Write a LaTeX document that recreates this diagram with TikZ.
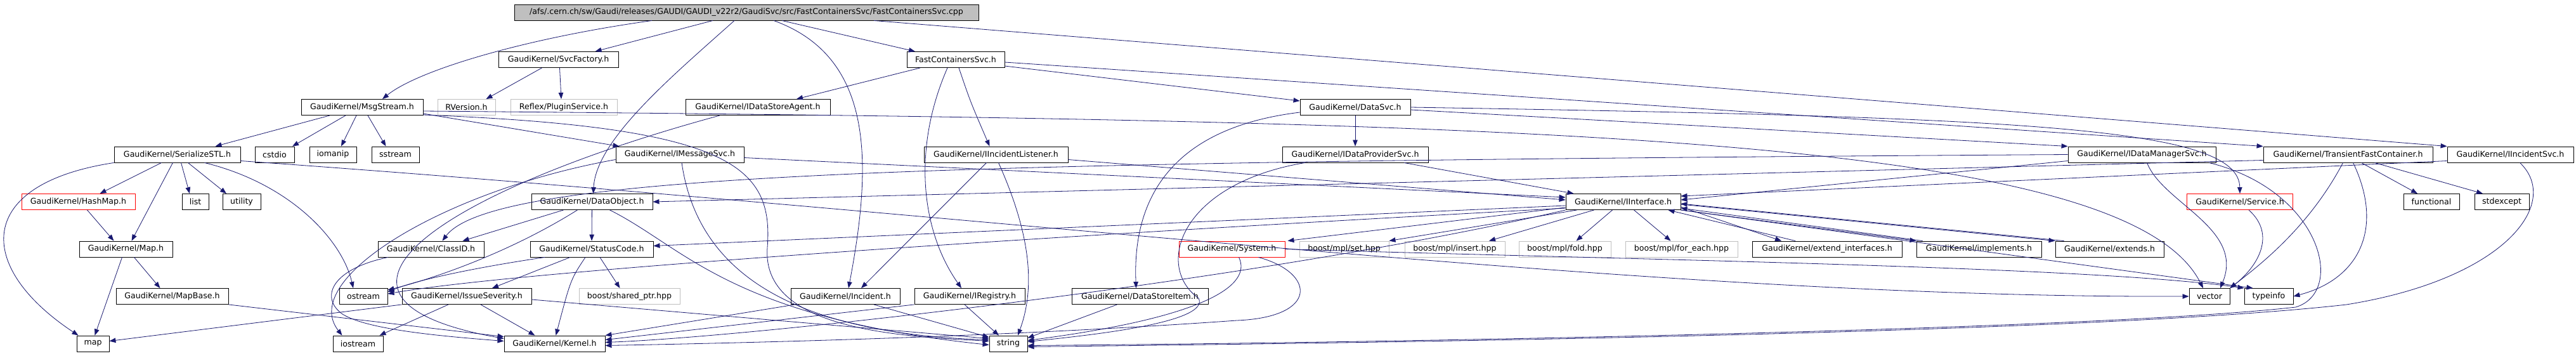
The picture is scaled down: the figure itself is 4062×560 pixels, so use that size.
\documentclass[tikz,border=0pt]{standalone}
\usepackage{fontspec}
\setmainfont{DejaVu Sans}
\usepackage{tikz}
\usetikzlibrary{arrows.meta,calc}
\definecolor{fcedge}{HTML}{191970}
\definecolor{fcgray}{HTML}{BFBFBF}
\begin{document}
\begin{tikzpicture}[x=1pt,y=-1pt,
    fcfile/.style={draw=black,fill=white,line width=0.9pt,minimum height=25pt,
        inner sep=0pt,font=\fontsize{12.6}{15}\selectfont},
    fcsys/.style={fcfile,draw=fcgray},
    fctrunc/.style={fcfile,draw=red},
    fcroot/.style={fcfile,fill=fcgray},
    fcarrow/.style={-{Triangle[length=10pt,width=7.5pt]},draw=fcedge,fill=none,line width=0.8pt}
]
\useasboundingbox[fill=white] (0,0) rectangle (4062,560);
% row 0 and 1
\node[fcroot,minimum width=732] (root) at (1177,19.5)
    {/afs/.cern.ch/sw/Gaudi/releases/GAUDI/GAUDI\_v22r2/GaudiSvc/src/FastContainersSvc/FastContainersSvc.cpp};
\node[fcfile,minimum width=189] (svcf) at (880.5,94) {GaudiKernel/SvcFactory.h};
\node[fcfile,minimum width=154] (fcs) at (1507,94) {FastContainersSvc.h};
% row 2
\node[fcfile,minimum width=192] (msg) at (571,169) {GaudiKernel/MsgStream.h};
\node[fcsys,minimum width=91] (rver) at (735.5,169) {RVersion.h};
\node[fcsys,minimum width=168] (plug) at (889,169) {Reflex/PluginService.h};
\node[fcfile,minimum width=228] (dsa) at (1195,169) {GaudiKernel/IDataStoreAgent.h};
\node[fcfile,minimum width=174] (dsvc) at (2137,169) {GaudiKernel/DataSvc.h};
% row 3
\node[fcfile,minimum width=199] (ser) at (279.5,243.5) {GaudiKernel/SerializeSTL.h};
\node[fcfile,minimum width=62] (cstdio) at (433,243.5) {cstdio};
\node[fcfile,minimum width=74] (iomanip) at (525,243.5) {iomanip};
\node[fcfile,minimum width=75] (sstream) at (623.5,243.5) {sstream};
\node[fcfile,minimum width=202] (imsg) at (1072,243.5) {GaudiKernel/IMessageSvc.h};
\node[fcfile,minimum width=227] (iil) at (1570.5,243.5) {GaudiKernel/IIncidentListener.h};
\node[fcfile,minimum width=230] (idp) at (2137,243.5) {GaudiKernel/IDataProviderSvc.h};
\node[fcfile,minimum width=233] (idm) at (3377.5,243.5) {GaudiKernel/IDataManagerSvc.h};
\node[fcfile,minimum width=267] (tfc) at (3702.5,243.5) {GaudiKernel/TransientFastContainer.h};
\node[fcfile,minimum width=199] (iis) at (3958.5,243.5) {GaudiKernel/IIncidentSvc.h};
% row 4
\node[fctrunc,minimum width=179] (hash) at (123.5,318) {GaudiKernel/HashMap.h};
\node[fcfile,minimum width=42] (list) at (308,318) {list};
\node[fcfile,minimum width=60] (util) at (381,318) {utility};
\node[fcfile,minimum width=191] (dobj) at (933.5,318) {GaudiKernel/DataObject.h};
\node[fcfile,minimum width=181] (iif) at (2559.5,318) {GaudiKernel/IInterface.h};
\node[fctrunc,minimum width=167] (serv) at (3532,318) {GaudiKernel/Service.h};
\node[fcfile,minimum width=88] (func) at (3834,318) {functional};
\node[fcfile,minimum width=86] (stdex) at (3945,318) {stdexcept};
% row 5
\node[fcfile,minimum width=147] (maph) at (198.5,392.5) {GaudiKernel/Map.h};
\node[fcfile,minimum width=167] (clid) at (679.5,392.5) {GaudiKernel/ClassID.h};
\node[fcfile,minimum width=194] (stc) at (933,392.5) {GaudiKernel/StatusCode.h};
\node[fctrunc,minimum width=167] (sys) at (1942.5,392.5) {GaudiKernel/System.h};
\node[fcsys,minimum width=141] (mset) at (2119.5,392.5) {boost/mpl/set.hpp};
\node[fcsys,minimum width=158] (mins) at (2294,392.5) {boost/mpl/insert.hpp};
\node[fcsys,minimum width=145] (mfold) at (2467.5,392.5) {boost/mpl/fold.hpp};
\node[fcsys,minimum width=177] (mfe) at (2651.5,392.5) {boost/mpl/for\_each.hpp};
\node[fcfile,minimum width=236] (extif) at (2881,392.5) {GaudiKernel/extend\_interfaces.h};
\node[fcfile,minimum width=197] (impl) at (3120.5,392.5) {GaudiKernel/implements.h};
\node[fcfile,minimum width=171] (ext) at (3326.5,392.5) {GaudiKernel/extends.h};
% row 6
\node[fcfile,minimum width=177] (mapb) at (271.5,467) {GaudiKernel/MapBase.h};
\node[fcfile,minimum width=76] (ostr) at (573,467) {ostream};
\node[fcfile,minimum width=204] (isev) at (736,467) {GaudiKernel/IssueSeverity.h};
\node[fcsys,minimum width=159] (shp) at (992.5,467) {boost/shared\_ptr.hpp};
\node[fcfile,minimum width=172] (inc) at (1333,467) {GaudiKernel/Incident.h};
\node[fcfile,minimum width=174] (ireg) at (1529,467) {GaudiKernel/IRegistry.h};
\node[fcfile,minimum width=215] (dsi) at (1797.5,467) {GaudiKernel/DataStoreItem.h};
\node[fcfile,minimum width=64] (vec) at (3484,467) {vector};
\node[fcfile,minimum width=77] (tinfo) at (3577.5,467) {typeinfo};
% row 7
\node[fcfile,minimum width=51] (map) at (146.5,541.5) {map};
\node[fcfile,minimum width=79] (iostr) at (564.5,541.5) {iostream};
\node[fcfile,minimum width=159] (kern) at (874.5,541.5) {GaudiKernel/Kernel.h};
\node[fcfile,minimum width=60] (str) at (1590,541.5) {string};

% includes of the .cpp file
\draw[fcarrow] ($(root.south)+(-149,0)$) .. controls (830,60) and (660,110) .. ($(msg.north)+(32,0)$);
\draw[fcarrow] ($(root.south)+(-53,0)$) -- ($(svcf.north)+(58,0)$);
\draw[fcarrow] ($(root.south)+(-19,0)$) .. controls (1060,120) and (940,220) .. ($(dobj.north)+(2,0)$);
\draw[fcarrow] ($(root.south)+(43,0)$) .. controls (1380,90) and (1375,260) .. ($(inc.north)+(5,0)$);
\draw[fcarrow] ($(root.south)+(56,0)$) -- ($(fcs.north)+(-64,0)$);
\draw[fcarrow] ($(root.south)+(201,0)$) -- (iis.north west);
\draw[fcarrow] ($(svcf.south)+(-26,0)$) -- ($(rver.north)+(31,0)$);
\draw[fcarrow] ($(svcf.south)+(2,0)$) -- ($(plug.north)+(-4,0)$);
% FastContainersSvc.h
\draw[fcarrow] ($(fcs.south)+(-56,0)$) -- ($(dsa.north)+(61,0)$);
\draw[fcarrow] ($(fcs.south)+(-13,0)$) .. controls (1440,230) and (1450,360) .. ($(ireg.north)+(-13,0)$);
\draw[fcarrow] ($(fcs.south)+(5,0)$) .. controls (1530,160) .. ($(iil.north)+(-10,0)$);
\draw[fcarrow] ($(fcs.east)+(0,10)$) -- ($(dsvc.west)+(0,-10)$);
\draw[fcarrow] ($(fcs.east)+(0,4)$) -- (tfc.north west);
% MsgStream.h
\draw[fcarrow] ($(msg.south)+(-51,0)$) -- ($(ser.north)+(60,0)$);
\draw[fcarrow] ($(msg.south)+(-26,0)$) -- ($(cstdio.north)+(28,0)$);
\draw[fcarrow] ($(msg.south)+(-9,0)$) -- ($(iomanip.north)+(13,0)$);
\draw[fcarrow] ($(msg.south)+(9,0)$) -- ($(sstream.north)+(-15,0)$);
\draw[fcarrow] ($(msg.east)+(0,10)$) -- ($(imsg.north west)+(6,0)$);
\draw[fcarrow] ($(msg.east)+(0,12)$) .. controls (1150,200) and (1220,260) .. (1210,390)
    .. controls (1200,520) and (1420,530) .. ($(str.west)+(0,-4)$);
\draw[fcarrow] ($(msg.east)+(0,6)$) .. controls (2400,190) and (3350,210) .. ($(vec.north)+(-10,0)$);
\draw[fcarrow] ($(dsa.south)+(-60,0)$) .. controls (700,300) and (440,470) .. ($(kern.west)+(0,-8)$);
% DataSvc.h
\draw[fcarrow] (dsvc) -- (idp);
\draw[fcarrow] ($(dsvc.east)+(0,4)$) -- (idm.north west);
\draw[fcarrow] (dsvc.east) .. controls (3200,185) and (3530,200) .. (serv.north);
\draw[fcarrow] ($(dsvc.west)+(0,8)$) .. controls (1860,200) and (1785,300) .. ($(dsi.north)+(-6,0)$);
% SerializeSTL.h and maps
\draw[fcarrow] ($(ser.south)+(-25,0)$) -- ($(hash.north)+(34,0)$);
\draw[fcarrow] ($(ser.south)+(6,0)$) -- ($(list.north)+(-9,0)$);
\draw[fcarrow] ($(ser.south)+(17,0)$) -- ($(util.north)+(-24,0)$);
\draw[fcarrow] ($(ser.south)+(-7,0)$) -- ($(maph.north)+(9,0)$);
\draw[fcarrow] (ser.south west) .. controls (-40,290) and (-40,420) .. ($(map.north)+(-23,0)$);
\draw[fcarrow] ($(ser.south)+(43,0)$) .. controls (460,290) and (540,380) .. ($(ostr.north)+(-16,0)$);
\draw[fcarrow] ($(ser.east)+(0,10)$) .. controls (1600,340) and (2600,470) .. (vec.west);
\draw[fcarrow] ($(hash.south)+(14,0)$) -- ($(maph.north)+(-19,0)$);
\draw[fcarrow] ($(maph.south)+(-6,0)$) -- ($(map.north)+(3,0)$);
\draw[fcarrow] ($(maph.south)+(13,0)$) -- ($(mapb.north)+(-19,0)$);
\draw[fcarrow] (mapb.south east) -- ($(kern.west)+(0,-11)$);
% IMessageSvc.h, IIncidentListener.h
\draw[fcarrow] ($(imsg.east)+(0,5)$) -- ($(iif.west)+(0,-7)$);
\draw[fcarrow] ($(imsg.south)+(3,0)$) .. controls (1100,430) and (1250,525) .. ($(str.west)+(0,-6)$);
\draw[fcarrow] ($(imsg.west)+(0,8)$) .. controls (700,300) and (470,440) .. ($(iostr.north)+(-25,0)$);
\draw[fcarrow] ($(iil.east)+(0,8)$) -- ($(iif.west)+(0,-3)$);
\draw[fcarrow] ($(iil.south)+(-15,0)$) -- ($(inc.north)+(25,0)$);
\draw[fcarrow] ($(iil.south)+(4,0)$) .. controls (1630,380) and (1630,460) .. ($(str.north)+(15,0)$);
% IDataProviderSvc.h, IDataManagerSvc.h, IIncidentSvc.h
\draw[fcarrow] ($(idp.south)+(77,0)$) -- ($(iif.north west)+(13,0)$);
\draw[fcarrow] ($(idp.south west)+(36,0)$) .. controls (1860,290) and (1820,420) .. (1890,470)
    .. controls (1910,510) and (1700,530) .. ($(str.east)+(0,-3)$);
\draw[fcarrow] ($(idm.west)+(0,10)$) -- ($(iif.east)+(0,-3)$);
\draw[fcarrow] (idm.west) .. controls (1500,255) and (780,270) .. ($(clid.north)+(18,0)$);
\draw[fcarrow] ($(idm.south)+(8,0)$) .. controls (3410,320) and (3540,360) .. ($(vec.north)+(17,0)$);
\draw[fcarrow] ($(idm.south east)+(-11,0)$) .. controls (3660,300) and (3700,460) .. (3620,484)
    .. controls (3300,520) and (2200,540) .. ($(str.east)+(0,3)$);
\draw[fcarrow] ($(iis.west)+(0,10)$) -- ($(iif.east)+(0,-9)$);
\draw[fcarrow] ($(iis.south)+(15,0)$) .. controls (4040,320) and (3950,440) .. (3700,480)
    .. controls (3300,525) and (2200,540) .. ($(str.east)+(0,5)$);
% TransientFastContainer.h, Service.h
\draw[fcarrow] ($(tfc.west)+(0,9)$) -- (dobj.east);
\draw[fcarrow] ($(tfc.south)+(-8,0)$) .. controls (3640,360) and (3560,420) .. (vec.north east);
\draw[fcarrow] ($(tfc.south)+(8,0)$) .. controls (3760,360) and (3720,440) .. (tinfo.east);
\draw[fcarrow] ($(tfc.south)+(21,0)$) -- ($(func.north)+(-22,0)$);
\draw[fcarrow] ($(tfc.south)+(42,0)$) -- ($(stdex.north)+(-30,0)$);
\draw[fcarrow] ($(serv.south)+(14,0)$) .. controls (3590,370) and (3560,420) .. (vec.north east);
% DataObject.h, ClassID.h, StatusCode.h
\draw[fcarrow] ($(dobj.south)+(-45,0)$) -- ($(clid.north)+(50,0)$);
\draw[fcarrow] (dobj) -- (stc);
\draw[fcarrow] ($(dobj.south)+(-23,0)$) .. controls (800,400) and (680,440) .. ($(ostr.east)+(0,-10)$);
\draw[fcarrow] ($(dobj.south)+(28,0)$) .. controls (1080,390) and (1150,500) .. ($(str.west)+(0,2)$);
\draw[fcarrow] ($(clid.south west)+(16,0)$) .. controls (520,425) and (505,470) .. (540,495)
    .. controls (580,520) and (700,530) .. ($(kern.west)+(0,-4)$);
\draw[fcarrow] ($(stc.south)+(-74,0)$) .. controls (760,420) and (660,440) .. ($(ostr.east)+(0,-7)$);
\draw[fcarrow] ($(stc.south)+(-34,0)$) -- ($(isev.north)+(40,0)$);
\draw[fcarrow] ($(stc.south)+(-10,0)$) .. controls (900,440) .. ($(kern.north)+(2,0)$);
\draw[fcarrow] ($(stc.south)+(13,0)$) -- ($(shp.north)+(-15,0)$);
% IssueSeverity.h, Incident.h, IRegistry.h, DataStoreItem.h
\draw[fcarrow] (isev.south west) -- ($(map.east)+(0,-4)$);
\draw[fcarrow] ($(isev.south)+(-29,0)$) -- ($(iostr.north east)+(-6,0)$);
\draw[fcarrow] ($(isev.south)+(22,0)$) -- ($(kern.north)+(-31,0)$);
\draw[fcarrow] ($(isev.east)+(0,5)$) -- ($(str.west)+(0,-8)$);
\draw[fcarrow] ($(inc.south west)+(7,0)$) -- (kern.north east);
\draw[fcarrow] ($(inc.south)+(45,0)$) -- ($(str.west)+(0,-10)$);
\draw[fcarrow] ($(ireg.south)+(-8,0)$) -- ($(str.north)+(-15,0)$);
\draw[fcarrow] (ireg.south west) -- ($(kern.east)+(0,-6)$);
\draw[fcarrow] ($(dsi.south)+(-36,0)$) -- ($(str.east)+(0,-9)$);
% System.h
\draw[fcarrow] ($(sys.south)+(11,0)$) .. controls (1975,450) and (1900,500) .. ($(str.east)+(0,-5)$);
\draw[fcarrow] ($(sys.south)+(42,0)$) .. controls (2075,430) and (2080,500) .. (1950,505)
    .. controls (1600,530) and (1200,540) .. ($(kern.east)+(0,3)$);
\draw[fcarrow] (sys.east) .. controls (2600,410) and (3300,420) .. (tinfo.north west);
% IInterface.h
\draw[fcarrow] ($(iif.south west)+(0,-4)$) -- ($(sys.north east)+(4,0)$);
\draw[fcarrow] ($(iif.south)+(-73,0)$) -- (mset.north east);
\draw[fcarrow] ($(iif.south)+(-46,0)$) -- ($(mins.north)+(54,0)$);
\draw[fcarrow] ($(iif.south)+(-17,0)$) -- ($(mfold.north)+(18,0)$);
\draw[fcarrow] ($(iif.south)+(17,0)$) -- ($(mfe.north)+(-17,0)$);
\draw[fcarrow] ($(iif.east)+(0,8)$) -- ($(extif.north)+(-72,0)$);
\draw[fcarrow] (iif.south east) -- (impl.north west);
\draw[fcarrow] ($(iif.east)+(0,4)$) -- (ext.north west);
\draw[fcarrow] ($(extif.north)+(-50,0)$) -- ($(iif.south east)+(-20,0)$);
\draw[fcarrow] ($(impl.north west)+(10,0)$) -- ($(iif.east)+(0,10)$);
\draw[fcarrow] ($(ext.north west)+(14,0)$) -- ($(iif.east)+(0,3)$);
\draw[fcarrow] ($(iif.west)+(0,6)$) -- ($(stc.east)+(0,-5)$);
\draw[fcarrow] ($(iif.west)+(0,10)$) .. controls (1500,380) and (800,430) .. ($(ostr.east)+(0,-4)$);
\draw[fcarrow] (iif.south west) .. controls (2000,440) and (1200,530) .. ($(kern.east)+(0,-2)$);
\draw[fcarrow] (iif.south east) -- ($(tinfo.north)+(-25,0)$);
\end{tikzpicture}
\end{document}
